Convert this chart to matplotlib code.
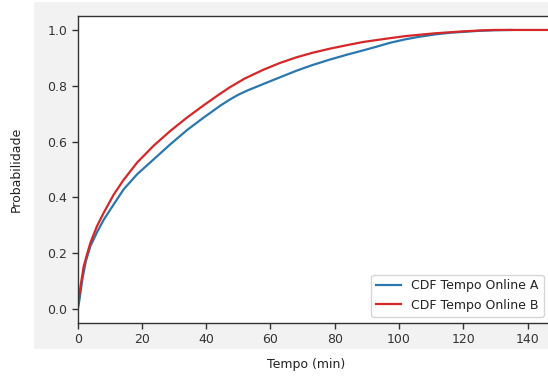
import matplotlib
matplotlib.use("Agg")
import matplotlib.pyplot as plt
from matplotlib.patches import Rectangle

# Data
time_a = [0, 0.5, 1.5, 2.5, 3.94, 6, 8.1, 11.2, 14.3, 18.5, 23.7, 28.8, 34, 39.2,
          42, 44.4, 47.4, 50, 53, 57.7, 62, 68.1, 73, 78.5, 84, 88.9, 93, 97.2,
          101.8, 106, 111.2, 116, 120, 125, 130, 135]
cdf_a = [0, 0.03, 0.11, 0.17, 0.225, 0.275, 0.32, 0.375, 0.429, 0.483, 0.537, 0.59,
         0.641, 0.686, 0.709, 0.729, 0.751, 0.768, 0.784, 0.806, 0.826, 0.854, 0.874,
         0.894, 0.912, 0.927, 0.94, 0.954, 0.966, 0.975, 0.984, 0.99, 0.993, 0.997,
         0.999, 1.0]

time_b = [0, 0.3, 1, 1.87, 3, 3.94, 6, 8.1, 11.2, 14.3, 18.5, 23.7, 28.8, 34, 39.2,
          44.4, 47.4, 52, 57.7, 63, 68.1, 73, 78.5, 84, 88.9, 95.6, 102, 111.2, 120,
          126.7, 130, 147]
cdf_b = [0, 0.034, 0.09, 0.153, 0.2, 0.237, 0.297, 0.345, 0.41, 0.463, 0.525, 0.586,
         0.638, 0.686, 0.73, 0.772, 0.795, 0.826, 0.857, 0.882, 0.902, 0.918, 0.933,
         0.946, 0.957, 0.968, 0.978, 0.988, 0.995, 0.999, 1.0, 1.0]

labels = ["CDF Tempo Online A", "CDF Tempo Online B"]
xticks = [0, 20, 40, 60, 80, 100, 120, 140]
yticks = [0.0, 0.2, 0.4, 0.6, 0.8, 1.0]

W, H = 548, 377
fig = plt.figure(figsize=(W / 100, H / 100), dpi=100, facecolor="white")
fig.patches.append(Rectangle((34 / W, (H - 349) / H), 1 - 34 / W, (349 - 2) / H,
                             transform=fig.transFigure, facecolor="#f2f2f2",
                             edgecolor="none", zorder=-10))

left = 77.7 / W
right = 550 / W
bottom = (H - 323) / H
top = (H - 16) / H
ax = fig.add_axes([left, bottom, right - left, top - bottom])
ax.set_zorder(1)
ax.set_facecolor("white")

ax.plot(time_a, cdf_a, color="#2a77ad", lw=1.6, label=labels[0])
ax.plot(time_b, cdf_b, color="#d62728", lw=1.6, label=labels[1])

ax.set_xlim(0, 147)
ax.set_ylim(-0.05, 1.05)
ax.set_xticks(xticks)
ax.set_yticks(yticks)
ax.set_xticklabels([str(t) for t in xticks])
ax.set_yticklabels([f"{t:.1f}" for t in yticks])
ax.tick_params(labelsize=9, colors="#333333", length=4, width=1)
for s in ax.spines.values():
    s.set_color("#333333")
    s.set_linewidth(1)

ax.set_xlabel("Tempo (min)", fontsize=9, color="#222222")
ax.set_ylabel("Probabilidade", fontsize=9, color="#222222")
axw = (right - left) * W
axh = (323 - 16)
ax.xaxis.set_label_coords((306 - 77.7) / axw, (323 - 358) / axh)
ax.yaxis.set_label_coords((23 - 77.7) / axw, 0.5)

leg = ax.legend(loc="lower right", fontsize=9, frameon=True, fancybox=True)
leg.get_frame().set_edgecolor("#cccccc")
for t in leg.get_texts():
    t.set_color("#222222")

fig.savefig("out.png", dpi=100, facecolor=fig.get_facecolor())
